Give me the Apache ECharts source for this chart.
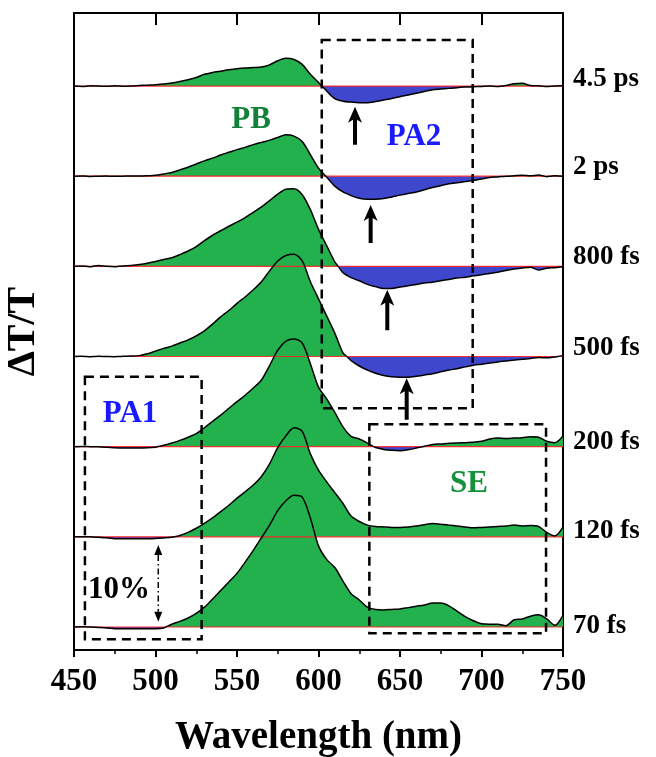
<!DOCTYPE html>
<html>
<head>
<meta charset="utf-8">
<title>Transient absorption spectra</title>
<script src="https://cdn.jsdelivr.net/npm/echarts@6/dist/echarts.min.js"></script>
<style>
    html, body { margin: 0; padding: 0; background: #ffffff; }
    #main { width: 656px; height: 757px; }
</style>
</head>
<body>
<div id="main"></div>

<script>
    // wavelength grid (nm)
    var wavelength = [
        450, 455, 460, 465, 470, 475, 480, 485, 490, 495,
        500, 505, 510, 515, 520, 525, 530, 535, 540, 545,
        550, 555, 560, 565, 570, 575, 580, 585, 590, 595,
        600, 605, 610, 615, 620, 625, 630, 635, 640, 645,
        650, 655, 660, 665, 670, 675, 680, 685, 690, 695,
        700, 705, 710, 715, 720, 725, 730, 735, 740, 745, 750
    ];

    // ΔT/T in %, one array per pump-probe delay
    var d70fs = [
        0, 0.02, 0, -0.05, -0.1, -0.18, -0.2, -0.2, -0.2, -0.2,
        -0.18, -0.1, 0.3, 0.62, 1.0, 1.5, 2.2, 3.1, 4.05, 5.0,
        5.95, 7.2, 8.5, 9.9, 11.3, 12.9, 14.0, 14.6, 14.4, 12.1,
        9.0, 7.5, 6.6, 5.1, 3.7, 3.0, 2.2, 1.95, 1.9, 1.95,
        2.0, 2.15, 2.3, 2.45, 2.65, 2.65, 2.35, 1.75, 1.15, 0.7,
        0.35, 0.3, 0.3, 0.15, 0.8, 0.9, 1.2, 1.35, 0.9, 0.2, 1.3
    ];
    var d120fs = [
        0, 0.02, 0, -0.05, -0.1, -0.2, -0.22, -0.22, -0.2, -0.2,
        -0.18, -0.12, -0.05, 0.15, 0.5, 0.95, 1.5, 2.1, 2.8, 3.5,
        4.3, 5.0, 5.75, 6.7, 8.1, 9.9, 11.2, 12.1, 11.7, 9.2,
        7.4, 6.1, 4.9, 3.7, 2.3, 1.7, 1.3, 1.15, 1.1, 1.05,
        1.05, 1.1, 1.2, 1.35, 1.48, 1.4, 1.3, 1.2, 1.1, 1.0,
        1.05, 1.1, 1.15, 1.2, 1.3, 1.2, 1.25, 1.15, 0.5, 0.1, 1.1
    ];
    var d200fs = [
        0, 0.02, 0, -0.02, -0.05, -0.12, -0.15, -0.15, -0.15, -0.12,
        -0.05, 0.15, 0.4, 0.7, 1.05, 1.45, 2.1, 2.8, 3.5, 4.25,
        5.0, 5.7, 6.5, 7.4, 9.0, 10.7, 11.7, 11.95, 11.5, 9.2,
        6.6, 5.3, 3.8, 2.2, 1.15, 0.85, 0.4, -0.1, -0.3, -0.4,
        -0.45, -0.35, -0.15, 0.05, 0.25, 0.3, 0.38, 0.42, 0.45, 0.48,
        0.6, 0.85, 0.95, 0.9, 0.95, 1.0, 1.1, 1.05, 0.6, 0.45, 1.2
    ];
    var d500fs = [
        0, 0.02, -0.03, 0.03, 0, -0.02, 0.02, 0.05, 0.1, 0.3,
        0.6, 0.9, 1.15, 1.5, 1.85, 2.3, 2.85, 3.6, 4.4, 5.1,
        5.9, 6.6, 7.4, 8.3, 9.5, 10.6, 11.2, 11.35, 10.6, 8.3,
        6.4, 4.5, 2.6, 0.4, -0.45, -1.05, -1.5, -1.85, -2.1, -2.25,
        -2.3, -2.3, -2.2, -2.05, -1.9, -1.7, -1.5, -1.35, -1.15, -0.96,
        -0.85, -0.72, -0.6, -0.5, -0.4, -0.3, -0.22, -0.1, -0.15, -0.05, 0.1
    ];
    var d800fs = [
        0, 0.05, -0.05, 0.1, 0, -0.05, 0.05, 0.1, 0.2, 0.35,
        0.55, 0.75, 0.95, 1.3, 1.7, 2.2, 2.85, 3.45, 3.95, 4.45,
        4.9, 5.4, 6.0, 6.6, 7.3, 8.0, 8.55, 8.6, 7.95, 6.3,
        4.1, 2.3, 0.5, -0.7, -1.25, -1.6, -2.0, -2.25, -2.45, -2.45,
        -2.3, -2.15, -2.0, -1.85, -1.75, -1.6, -1.45, -1.3, -1.2, -1.05,
        -0.92, -0.78, -0.65, -0.45, -0.3, -0.18, -0.1, -0.4, -0.2, -0.15, -0.05
    ];
    var d2ps = [
        0, 0.03, -0.03, 0, 0.02, -0.02, 0, 0.03, 0.02, 0.05,
        0.1, 0.25, 0.42, 0.7, 1.0, 1.35, 1.7, 2.0, 2.35, 2.65,
        2.95, 3.2, 3.5, 3.75, 4.0, 4.3, 4.6, 4.45, 3.85, 2.4,
        0.9, -0.1, -1.1, -1.75, -2.15, -2.45, -2.55, -2.55, -2.48, -2.3,
        -2.1, -1.92, -1.75, -1.5, -1.25, -1.05, -0.85, -0.72, -0.6, -0.48,
        -0.32, -0.15, -0.08, 0, 0.05, 0.1, 0.05, 0.12, -0.05, 0.05, 0
    ];
    var d4_5ps = [
        0, -0.05, 0.02, 0, -0.03, 0.02, -0.02, 0, 0.05, 0.1,
        0.15, 0.22, 0.33, 0.5, 0.7, 0.95, 1.3, 1.5, 1.65, 1.8,
        1.92, 2.0, 2.05, 2.1, 2.35, 2.8, 3.07, 2.95, 2.4, 1.3,
        0.4, -0.55, -1.4, -1.68, -1.78, -1.85, -1.85, -1.72, -1.55, -1.38,
        -1.18, -1.0, -0.8, -0.6, -0.42, -0.34, -0.26, -0.18, -0.12, -0.07,
        -0.04, 0, -0.05, 0.05, 0.25, 0.3, 0.05, 0.02, -0.05, 0, 0.02
    ];

    var delays = ['70 fs', '120 fs', '200 fs', '500 fs', '800 fs', '2 ps', '4.5 ps'];
    var traces = [d70fs, d120fs, d200fs, d500fs, d800fs, d2ps, d4_5ps];
    var STEP = 10;   // vertical offset between spectra = 10 % (scale bar)

    var FONT = '"Liberation Serif", "Times New Roman", serif';
    var GREEN = '#22b14c', BLUE = '#3f48cc', RED = '#ff2020';

    // split one spectrum into positive / negative parts, adding the zero crossings
    function splitTrace(vals, off) {
        var line = [], pos = [], neg = [];
        for (var i = 0; i < vals.length; i++) {
            var x = wavelength[i], v = vals[i];
            if (i > 0) {
                var pv = vals[i - 1];
                if ((pv > 0 && v < 0) || (pv < 0 && v > 0)) {
                    var xc = wavelength[i - 1] + (x - wavelength[i - 1]) * pv / (pv - v);
                    line.push([xc, off]);
                    pos.push([xc, off]);
                    neg.push([xc, off]);
                }
            }
            line.push([x, off + v]);
            pos.push([x, off + Math.max(v, 0)]);
            neg.push([x, off + Math.min(v, 0)]);
        }
        return {line: line, pos: pos, neg: neg};
    }

    var SM = 0.3;
    var series = [];
    traces.forEach(function (vals, k) {
        var off = k * STEP;
        var p = splitTrace(vals, off);
        series.push({
            type: 'line', data: p.pos, symbol: 'none', smooth: SM, silent: true, z: 2,
            lineStyle: {width: 0}, areaStyle: {color: GREEN, opacity: 1, origin: off}
        });
        series.push({
            type: 'line', data: p.neg, symbol: 'none', smooth: SM, silent: true, z: 2,
            lineStyle: {width: 0}, areaStyle: {color: BLUE, opacity: 1, origin: off}
        });
    });
    traces.forEach(function (vals, k) {
        var off = k * STEP;
        series.push({
            type: 'line', symbol: 'none', silent: true, z: 3,
            data: wavelength.map(function (w) { return [w, off]; }),
            lineStyle: {color: RED, width: 1.2, opacity: 0.9}
        });
    });
    traces.forEach(function (vals, k) {
        var p = splitTrace(vals, k * STEP);
        series.push({
            type: 'line', data: p.line, symbol: 'none', smooth: SM, silent: true, z: 4,
            lineStyle: {color: '#000', width: 1.5}
        });
    });

    var YMIN = -2.55, YMAX = 68.1;

    var option = {
        animation: false,
        backgroundColor: '#ffffff',
        grid: {left: 74, right: 93, top: 13, bottom: 107, outerBoundsMode: 'none', containLabel: false},
        xAxis: [{
            type: 'value', min: 450, max: 750, interval: 50,
            name: 'Wavelength (nm)', nameLocation: 'middle', nameGap: 68,
            nameTextStyle: {fontFamily: FONT, fontWeight: 'bold', fontSize: 39, color: '#000'},
            axisLine: {show: true, onZero: false, lineStyle: {color: '#000', width: 2}},
            axisTick: {show: true, inside: false, length: 7, lineStyle: {color: '#000', width: 2}},
            minorTick: {show: true, splitNumber: 2, length: 4, lineStyle: {color: '#000', width: 1.5}},
            axisLabel: {fontFamily: FONT, fontWeight: 'bold', fontSize: 31, color: '#000', margin: 16},
            splitLine: {show: false}
        }, {
            type: 'value', position: 'top', min: 450, max: 750, interval: 50,
            axisLine: {show: true, onZero: false, lineStyle: {color: '#000', width: 2}},
            axisTick: {show: true, inside: true, length: 12, lineStyle: {color: '#000', width: 2}},
            axisLabel: {show: false},
            splitLine: {show: false}
        }],
        yAxis: [{
            type: 'value', min: YMIN, max: YMAX,
            name: 'ΔT/T', nameLocation: 'middle', nameGap: 30, nameRotate: 90,
            nameTextStyle: {fontFamily: FONT, fontWeight: 'bold', fontSize: 40, color: '#000'},
            axisLine: {show: true, onZero: false, lineStyle: {color: '#000', width: 2}},
            axisTick: {show: false}, axisLabel: {show: false}, splitLine: {show: false}
        }, {
            type: 'value', position: 'right', min: YMIN, max: YMAX,
            axisLine: {show: true, onZero: false, lineStyle: {color: '#000', width: 2}},
            axisTick: {show: false}, axisLabel: {show: false}, splitLine: {show: false}
        }],
        series: series
    };

    var chart = echarts.init(document.getElementById('main'));
    chart.setOption(option);

    // annotations, in data units (nm, %)
    var boxes = [
        [602.0, 65.1, 694.6, 24.25],   // PA2
        [456.7, 27.76, 528.3, -1.36],  // PA1
        [631.2, 22.48, 739.6, -0.70]   // SE
    ];
    var arrows = [   // x, tip, tail
        [622.4, 57.7, 53.5],
        [632.0, 46.8, 42.6],
        [642.2, 37.4, 32.9],
        [654.1, 27.6, 23.0]
    ];
    var scaleBar = [501.7, 9.09, 0.59];
    var notes = [
        {text: 'PB', x: 558.6, y: 56.2, color: '#128038'},
        {text: 'PA2', x: 658.6, y: 54.3, color: '#1a1aff'},
        {text: 'PA1', x: 484.4, y: 23.6, color: '#1a1aff'},
        {text: 'SE', x: 692.3, y: 15.9, color: '#14913a'},
        {text: '10%', x: 477.6, y: 4.1, color: '#000'}
    ];
    var labelY = [0.1, 10.6, 20.5, 30.9, 41.0, 51.0, 60.8];

    function px(x, y) { return chart.convertToPixel({seriesIndex: 0}, [x, y]); }

    var graphics = [];
    boxes.forEach(function (b) {
        var a = px(b[0], b[1]), c = px(b[2], b[3]);
        graphics.push({
            type: 'rect', z: 10, silent: true,
            shape: {x: a[0], y: a[1], width: c[0] - a[0], height: c[1] - a[1]},
            style: {fill: null, stroke: '#000', lineWidth: 2.5, lineDash: [9, 6]}
        });
    });
    arrows.forEach(function (ar) {
        var t = px(ar[0], ar[1]), e = px(ar[0], ar[2]);
        var x = t[0], hl = 16, hw = 7, sw = 2;
        graphics.push({
            type: 'polygon', z: 10, silent: true,
            shape: {points: [[x, t[1]], [x + hw, t[1] + hl], [x + sw, t[1] + hl - 3], [x + sw, e[1]],
                [x - sw, e[1]], [x - sw, t[1] + hl - 3], [x - hw, t[1] + hl]]},
            style: {fill: '#000'}
        });
    });
    (function () {
        var t = px(scaleBar[0], scaleBar[1]), b = px(scaleBar[0], scaleBar[2]);
        var x = t[0], hl = 10, hw = 4;
        graphics.push({
            type: 'line', z: 10, silent: true,
            shape: {x1: x, y1: t[1] + hl, x2: x, y2: b[1] - hl},
            style: {stroke: '#000', lineWidth: 1.5, lineDash: [6, 3, 1.5, 3]}
        });
        graphics.push({type: 'polygon', z: 10, silent: true,
            shape: {points: [[x, t[1]], [x + hw, t[1] + hl], [x - hw, t[1] + hl]]}, style: {fill: '#000'}});
        graphics.push({type: 'polygon', z: 10, silent: true,
            shape: {points: [[x, b[1]], [x + hw, b[1] - hl], [x - hw, b[1] - hl]]}, style: {fill: '#000'}});
    })();
    notes.forEach(function (n) {
        var p = px(n.x, n.y);
        graphics.push({
            type: 'text', z: 11, silent: true, x: p[0], y: p[1],
            style: {text: n.text, fill: n.color, font: 'bold 31px ' + FONT, align: 'center', verticalAlign: 'middle'}
        });
    });
    delays.forEach(function (d, k) {
        var p = px(750, labelY[k]);
        graphics.push({
            type: 'text', z: 11, silent: true, x: p[0] + 10, y: p[1],
            style: {text: d, fill: '#000', font: 'bold 27px ' + FONT, align: 'left', verticalAlign: 'middle'}
        });
    });

    chart.setOption({graphic: graphics});
</script>
</body>
</html>
